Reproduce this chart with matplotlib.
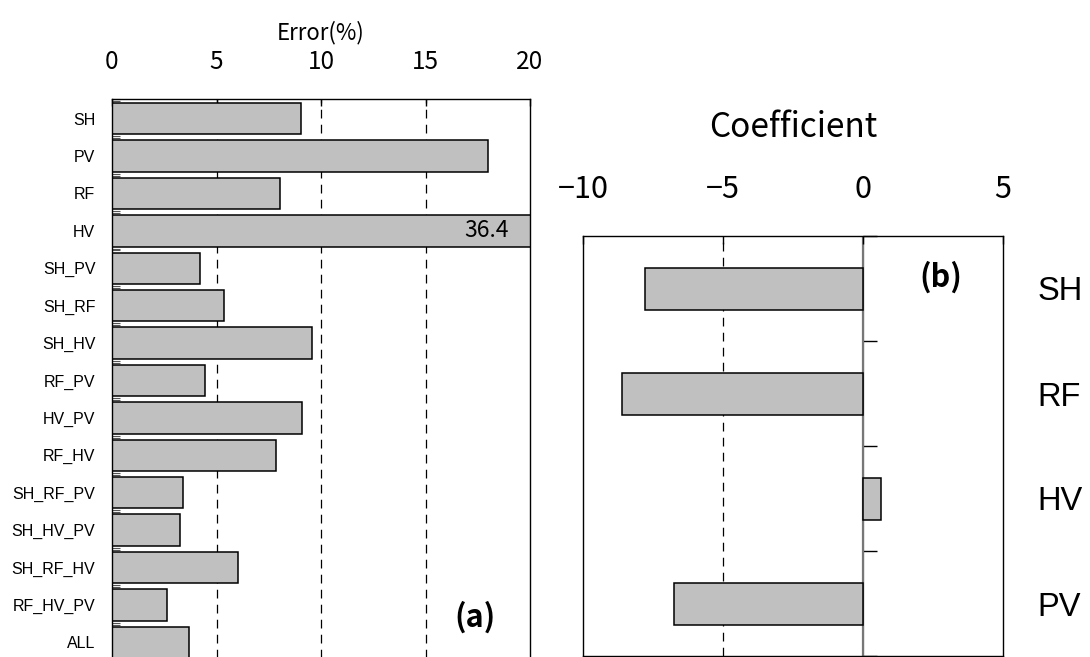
import matplotlib
matplotlib.use("Agg")
import matplotlib.pyplot as plt
import numpy as np

# ---- data -------------------------------------------------------------
combo_labels = ["SH", "PV", "RF", "HV", "SH_PV", "SH_RF", "SH_HV", "RF_PV",
                "HV_PV", "RF_HV", "SH_RF_PV", "SH_HV_PV", "SH_RF_HV",
                "RF_HV_PV", "ALL"]
error_pct = [9.05, 18.0, 8.05, 36.4, 4.23, 5.36, 9.57, 4.45,
             9.09, 7.85, 3.38, 3.25, 6.05, 2.63, 3.70]

coef_labels = ["SH", "RF", "HV", "PV"]
coef_values = [-7.78, -8.6, 0.64, -6.76]

error_ticks = [0, 5, 10, 15, 20]
coef_ticks = [-10, -5, 0, 5]

# ---- styling ------------------------------------------------------------
JP = ["Noto Sans CJK JP", "DejaVu Sans"]
LAT = ["Liberation Sans", "DejaVu Sans"]
BAR_FACE = "#c0c0c0"
DASH = (0, (7, 5))

fig = plt.figure(figsize=(10.9, 6.57), dpi=100)

# ---- (a) error of each predictor combination ----------------------------
ax1 = fig.add_axes([112 / 1090, 1 - 661 / 657, 418 / 1090, 562 / 657])
ypos = np.arange(len(combo_labels))
ax1.barh(ypos, error_pct, height=0.84, color=BAR_FACE, edgecolor="black",
         linewidth=1.1, zorder=2)
ax1.set_xlim(error_ticks[0], error_ticks[-1])
ax1.set_ylim(len(combo_labels) - 0.5, -0.5)
ax1.xaxis.tick_top()
ax1.xaxis.set_label_position("top")
ax1.set_xticks(error_ticks)
ax1.set_xticklabels([str(t) for t in error_ticks], family=JP, fontsize=17.5)
ax1.set_xlabel("Error(%)", family=JP, fontsize=16, labelpad=7)
ax1.tick_params(axis="x", which="major", direction="in", length=5, pad=17,
                width=1)
ax1.set_yticks(ypos)
ax1.set_yticklabels(combo_labels, family=LAT, fontsize=11.5)
ax1.tick_params(axis="y", which="major", length=0, pad=12)
bounds = np.arange(-0.5, len(combo_labels) - 1, 1.0)
ax1.set_yticks(np.concatenate([bounds - 0.025, bounds + 0.025]), minor=True)
ax1.tick_params(axis="y", which="minor", direction="in", length=6,
                width=0.8, color="#555555")
for t in error_ticks[1:-1]:
    ax1.axvline(t, color="black", linewidth=0.9, linestyle=DASH, zorder=1)
for s in ax1.spines.values():
    s.set_linewidth(1.0)

# value label for the bar running off the scale
over = [i for i, v in enumerate(error_pct) if v > error_ticks[-1]]
for i in over:
    ax1.text(0.95, i, f"{error_pct[i]}", transform=ax1.get_yaxis_transform(),
             ha="right", va="center", family=JP, fontsize=16.5, zorder=3)
ax1.text(0.868, 0.078, "(a)", transform=ax1.transAxes, ha="center",
         va="center", family=JP, fontsize=22, fontweight="bold")

# ---- (b) regression coefficients -----------------------------------------
ax2 = fig.add_axes([583 / 1090, 1 - 656 / 657, 420 / 1090, 420 / 657])
cpos = np.arange(len(coef_labels))
ax2.barh(cpos, coef_values, height=0.4, color=BAR_FACE, edgecolor="black",
         linewidth=1.1, zorder=2)
ax2.set_xlim(coef_ticks[0], coef_ticks[-1])
ax2.set_ylim(len(coef_labels) - 0.5, -0.5)
ax2.xaxis.tick_top()
ax2.xaxis.set_label_position("top")
ax2.set_xticks(coef_ticks)
ax2.set_xticklabels([f"{t}".replace("-", "\u2212") for t in coef_ticks],
                    family=JP, fontsize=22)
ax2.set_xlabel("Coefficient", family=JP, fontsize=24, labelpad=27)
ax2.tick_params(axis="x", direction="in", length=6, pad=22, width=1)
ax2.yaxis.tick_right()
ax2.set_yticks(cpos)
ax2.set_yticklabels(coef_labels, family=LAT, fontsize=23.5)
ax2.tick_params(axis="y", which="major", length=0, pad=25)
for t in coef_ticks[1:-1]:
    if t != 0:
        ax2.axvline(t, color="black", linewidth=0.9, linestyle=DASH, zorder=1)
ax2.axvline(0, color="#777777", linewidth=1.6, zorder=1)
for s in ax2.spines.values():
    s.set_linewidth(1.0)

# boundary ticks sitting on the zero line, pointing right
zero_frac = (0 - coef_ticks[0]) / (coef_ticks[-1] - coef_ticks[0])
zax = ax2.secondary_yaxis(zero_frac)
zax.spines["left"].set_visible(False)
zax.set_yticks([])
zax.set_yticks(np.arange(-0.5, len(coef_labels), 1.0), minor=True)
zax.tick_params(axis="y", which="minor", direction="out", length=10,
                width=1.0, color="black")
zax.set_yticklabels([], minor=True)

ax2.text(0.852, 0.902, "(b)", transform=ax2.transAxes, ha="center",
         va="center", family=JP, fontsize=22, fontweight="bold")

fig.savefig("out.png", dpi=100)
